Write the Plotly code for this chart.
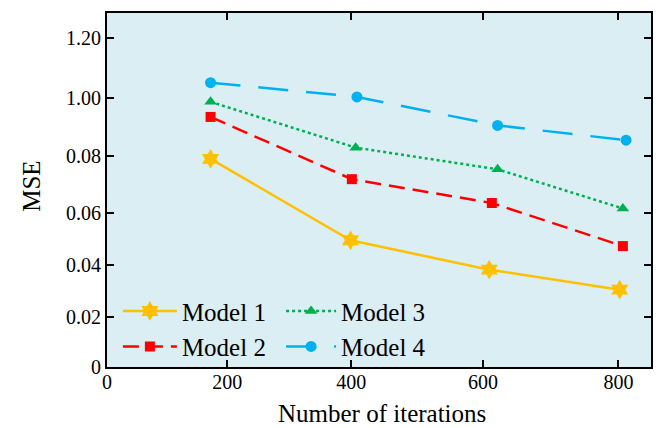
import plotly.graph_objects as go

# ---- data (in the chart's own axis units) ----
series_names = ["Model 1", "Model 2", "Model 3", "Model 4"]
x_model1 = [162, 381, 598, 802]
x_model2 = [162, 383, 602, 807]
x_model3 = [162, 389, 611, 807]
x_model4 = [162, 391, 611, 812]
y_model1 = [0.0759, 0.0462, 0.0355, 0.0282]
y_model2 = [0.0912, 0.0685, 0.0598, 0.0441]
y_model3 = [0.0967, 0.0800, 0.0721, 0.0578]
y_model4 = [0.1037, 0.0985, 0.0881, 0.0827]

x_tick_vals = [0, 188, 382, 588, 800]
x_tick_text = ["0", "200", "400", "600", "800"]
y_tick_vals = [0, 0.0181, 0.0371, 0.0562, 0.0771, 0.0980, 0.12]
y_tick_text = ["0", "0.02", "0.04", "0.06", "0.08", "1.00", "1.20"]
x_title = "Number of iterations"
y_title = "MSE"

FONT = "Liberation Serif"

styles = [
    dict(color="#FFC000", dash="solid", symbol="hexagram", size=15, legend="legend"),
    dict(color="#FF0000", dash="16px,8px", symbol="square", size=10, legend="legend"),
    dict(color="#00B050", dash="3px,3px", symbol="triangle-up", size=11, legend="legend2"),
    dict(color="#00B0F0", dash="30px,18px", symbol="circle", size=11, legend="legend2"),
]
xs = [x_model1, x_model2, x_model3, x_model4]
ys = [y_model1, y_model2, y_model3, y_model4]

fig = go.Figure()
for name, x, y, st in zip(series_names, xs, ys, styles):
    fig.add_trace(go.Scatter(
        x=x, y=y, name=name, mode="lines+markers",
        line=dict(color=st["color"], width=2.5, dash=st["dash"]),
        marker=dict(color=st["color"], symbol=st["symbol"], size=st["size"]),
        legend=st["legend"],
    ))

axis_common = dict(
    showline=True, linecolor="black", linewidth=2, mirror="allticks",
    ticks="inside", ticklen=7, tickwidth=2, tickcolor="black",
    showgrid=False, zeroline=False, automargin=False,
    tickfont=dict(family=FONT, size=20, color="black"),
)

legend_common = dict(
    xanchor="left", yanchor="top", bgcolor="rgba(0,0,0,0)",
    font=dict(family=FONT, size=25, color="black"),
    tracegroupgap=0, orientation="v",
)

fig.update_layout(
    width=660, height=428,
    margin=dict(l=107, r=9, t=13, b=61, autoexpand=False),
    paper_bgcolor="white",
    plot_bgcolor="#DAEEF3",
    xaxis=dict(range=[0, 851], tickvals=x_tick_vals, ticktext=x_tick_text, ticklabelstandoff=-4,
               **axis_common),
    yaxis=dict(range=[0, 0.1291], tickvals=y_tick_vals, ticktext=y_tick_text,
               **axis_common),
    legend=dict(x=0.02, y=0.2226, itemwidth=54, **legend_common),
    legend2=dict(x=0.32, y=0.2226, itemwidth=50, **legend_common),
    showlegend=True,
    annotations=[
        dict(text=x_title, xref="paper", yref="paper", x=0.505, y=-0.132,
             xanchor="center", yanchor="middle", showarrow=False,
             font=dict(family=FONT, size=25, color="black")),
        dict(text=y_title, xref="paper", yref="paper", x=-0.139, y=0.51,
             xanchor="center", yanchor="middle", showarrow=False, textangle=-90,
             font=dict(family=FONT, size=25, color="black")),
    ],
)

fig.write_html("out.html")
